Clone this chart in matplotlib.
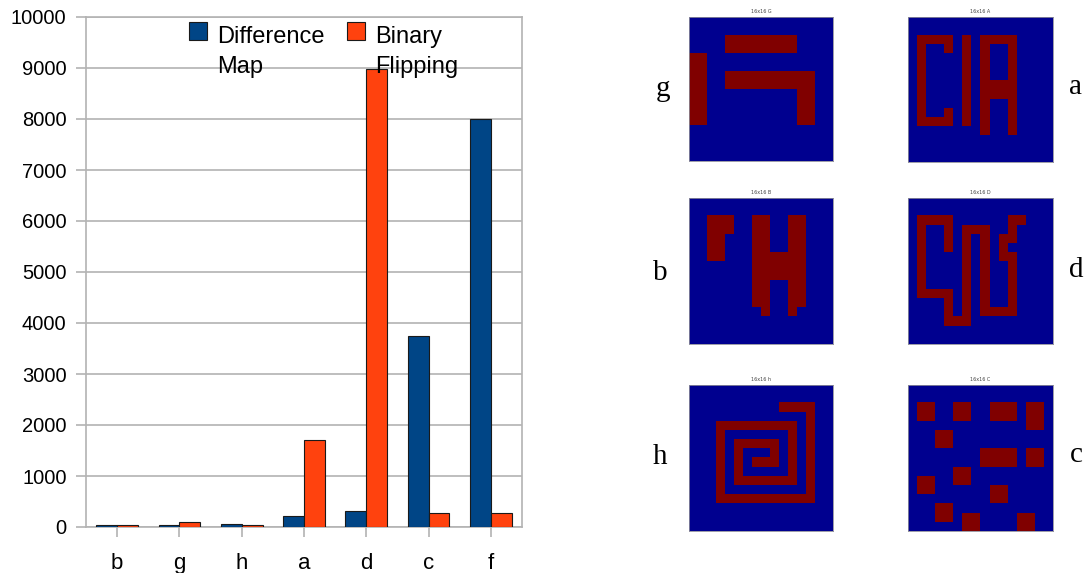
import numpy as np
import matplotlib
matplotlib.use("Agg")
import matplotlib.pyplot as plt
from matplotlib.colors import ListedColormap
from matplotlib.patches import Rectangle

# ---------------- data ----------------
categories = ["b", "g", "h", "a", "d", "c", "f"]
difference_map = [45, 30, 50, 220, 310, 3740, 8000]
binary_flipping = [30, 100, 40, 1700, 8980, 280, 267]
series_labels = ["Difference\nMap", "Binary\nFlipping"]
yticks = list(range(0, 10001, 1000))

panel_titles = ["16x16 G", "16x16 A", "16x16 B", "16x16 D", "16x16 h", "16x16 C"]
panel_letters = ["g", "a", "b", "d", "h", "c"]

grid_g = ["................", "................",
          "....########....", "....########....",
          "##..............", "##..............",
          "##..##########..", "##..##########..",
          "##..........##..", "##..........##..",
          "##..........##..", "##..........##..",
          "................", "................",
          "................", "................"]
grid_a = ["................", "................",
          ".####.#.####....", ".#..#.#.#..#....",
          ".#....#.#..#....", ".#....#.#..#....",
          ".#....#.#..#....", ".#....#.####....",
          ".#....#.####....", ".#....#.#..#....",
          ".#..#.#.#..#....", ".####.#.#..#....",
          "........#..#....", "................",
          "................", "................"]
grid_b = ["................", "................",
          "..###..##..##...", "..###..##..##...",
          "..##...##..##...", "..##...##..##...",
          "..##...######...", ".......######...",
          ".......######...", ".......##..##...",
          ".......##..##...", ".......##..##...",
          "........#..#....", "................",
          "................", "................"]
grid_d = ["................", "................",
          ".####......##...", ".#..#.###..#....",
          ".#..#.#.#.##....", ".#..#.#.#.#.....",
          ".#....#.#.##....", ".#....#.#..#....",
          ".#....#.#..#....", ".#....#.#..#....",
          ".####.#.#..#....", "....#.#.#..#....",
          "....#.#.####....", "....###.........",
          "................", "................"]
grid_h = ["................", "................",
          "..........####..", ".............#..",
          "...#########.#..", "...#.......#.#..",
          "...#.#####.#.#..", "...#.#...#.#.#..",
          "...#.#.###.#.#..", "...#.#.....#.#..",
          "...#.#######.#..", "...#.........#..",
          "...###########..", "................",
          "................", "................"]
grid_c = ["................", "................",
          ".##..##..###.##.", ".##..##..###.##.",
          ".............##.", "...##...........",
          "...##...........", "........####.##.",
          "........####.##.", ".....##.........",
          ".##..##.........", ".##......##.....",
          ".........##.....", "...##...........",
          "...##.##....##..", "......##....##.."]

grids = [grid_g, grid_a, grid_b, grid_d, grid_h, grid_c]

# ---------------- layout helpers ----------------
W, H = 1089, 573
plt.rcParams['font.family'] = ['Liberation Sans', 'DejaVu Sans']
fig = plt.figure(figsize=(W / 100, H / 100), dpi=100)


def px_axes(x0, y0, x1, y1):
    return fig.add_axes([x0 / W, 1 - y1 / H, (x1 - x0) / W, (y1 - y0) / H])


BLUE = "#004586"
ORANGE = "#ff420e"
GRID = "#b3b3b3"

# ---------------- bar chart ----------------
ax = px_axes(86, 17, 522, 527)
x = np.arange(len(categories))
bw = 0.335
ax.bar(x - bw / 2, difference_map, bw, color=BLUE, edgecolor="#1a1a1a",
       linewidth=0.8, zorder=3)
ax.bar(x + bw / 2, binary_flipping, bw, color=ORANGE, edgecolor="#1a1a1a",
       linewidth=0.8, zorder=3)
ax.set_xlim(-0.5, len(categories) - 0.5)
ax.set_ylim(0, 10000)
ax.set_yticks(yticks)
ax.set_xticks(x)
ax.set_xticklabels(categories)
ax.yaxis.grid(True, color=GRID, linewidth=1.2, zorder=0)
for s in ax.spines.values():
    s.set_color(GRID)
    s.set_linewidth(1.2)
ax.tick_params(axis="y", length=7, width=1.2, color=GRID, labelsize=14.5, pad=7)
ax.tick_params(axis="x", length=7.5, width=1.2, color=GRID, labelsize=16, pad=11)
ax.set_axisbelow(True)

# legend drawn manually (square beside first text line)
leg_items = [(189, 22, BLUE, series_labels[0], 217),
             (347, 22, ORANGE, series_labels[1], 375)]
for sx, sy, col, lab, tx in leg_items:
    fig.patches.append(Rectangle((sx / W, 1 - (sy + 18) / H), 18 / W, 18 / H,
                                 transform=fig.transFigure, facecolor=col,
                                 edgecolor="#1a1a1a", linewidth=0.8))
    fig.text(tx / W, 1 - 26 / H, lab, fontsize=17, va="top", ha="left",
             linespacing=1.45)

# ---------------- image panels ----------------
cmap = ListedColormap(["#00008f", "#800000"])
panel_boxes = [(689, 17, 833, 161), (908, 17, 1053, 162),
               (689, 198, 833, 344), (908, 198, 1053, 344),
               (689, 385, 833, 531), (908, 385, 1053, 531)]
letter_pos = [(663, 96), (1076, 94), (660, 280), (1076, 277),
              (660, 464), (1076, 462)]
for grid, box, title, letter, lp in zip(grids, panel_boxes, panel_titles,
                                         panel_letters, letter_pos):
    arr = np.array([[1 if ch == "#" else 0 for ch in row] for row in grid])
    pax = px_axes(*box)
    pax.imshow(arr, cmap=cmap, vmin=0, vmax=1, interpolation="nearest",
               aspect="auto")
    pax.set_xticks([])
    pax.set_yticks([])
    for s in pax.spines.values():
        s.set_color("#8c8c99")
        s.set_linewidth(0.6)
    pax.set_title(title, fontsize=3.5, color="#444444", pad=3,
                  family="DejaVu Sans")
    fig.text(lp[0] / W, 1 - lp[1] / H, letter, fontsize=21, ha="center",
             va="baseline", family="Liberation Serif")

fig.savefig("out.png", dpi=100)
